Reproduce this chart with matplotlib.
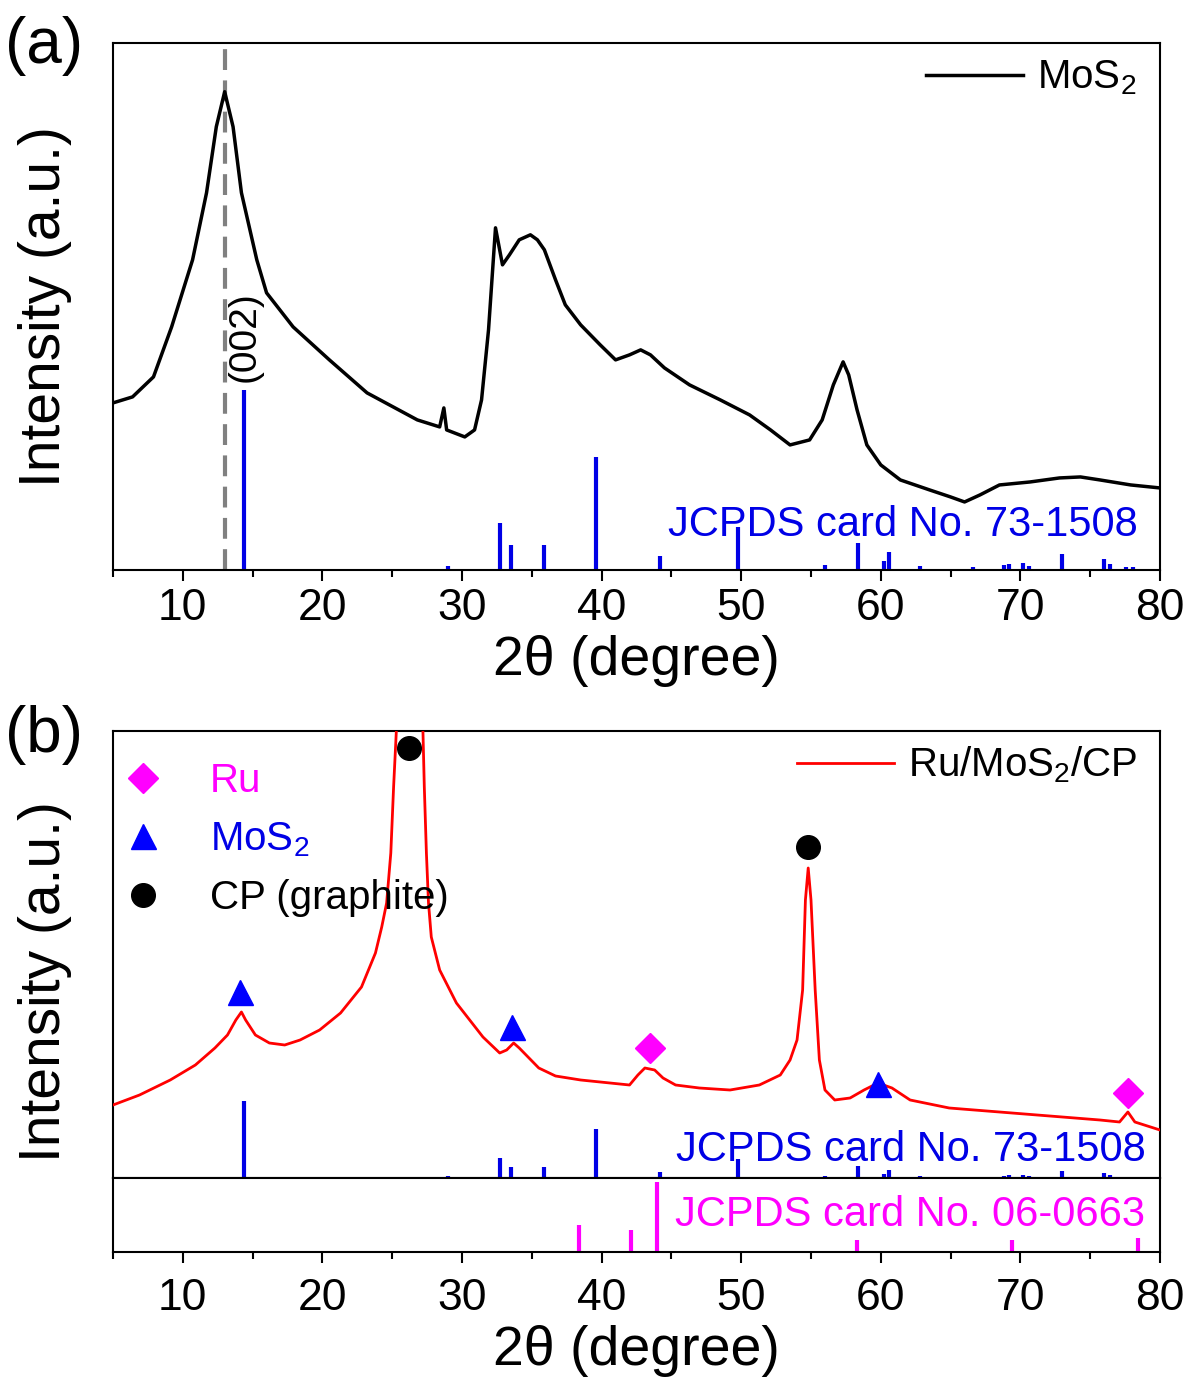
import matplotlib
matplotlib.use("Agg")
import matplotlib.pyplot as plt
from matplotlib.lines import Line2D

plt.rcParams['font.family'] = ['Liberation Sans', 'DejaVu Sans']
plt.rcParams['mathtext.fontset'] = 'custom'
plt.rcParams['mathtext.rm'] = 'Liberation Sans'
plt.rcParams['mathtext.it'] = 'Liberation Sans:italic'

# ---- data ----
# (a) MoS2 pattern
mos2_x = [5, 6.4, 7.9, 9.2, 10.7, 11.7, 12.4, 13.0, 13.6, 14.2, 15.3, 16.0, 17.9,
          20.5, 23.2, 26.8, 28.4, 28.7, 28.9, 30.2, 30.9, 31.4, 31.9, 32.4, 32.9,
          33.4, 34.1, 34.9, 35.4, 35.9, 36.7, 37.4, 38.5, 39.9, 41.0, 42.0, 42.8,
          43.5, 44.5, 46.3, 48.5, 50.6, 52.1, 53.5, 54.9, 55.8, 56.6, 57.3, 57.7,
          58.3, 59.0, 60.0, 61.4, 63.5, 65.0, 66.0, 67.1, 68.5, 70.7, 72.8, 74.3,
          75.7, 77.9, 80]
mos2_y = [167, 173, 193, 243, 310, 377, 443, 478, 443, 377, 310, 277, 243,
          210, 177, 150, 143, 162, 140, 133, 140, 170, 240, 342, 305,
          315, 330, 335, 330, 320, 290, 265, 245, 225, 210, 215, 220,
          215, 202, 185, 170, 155, 140, 125, 130, 150, 185, 208, 195,
          160, 125, 105, 90, 80, 73, 68, 75, 85, 88, 92, 93,
          90, 85, 82]

# (b) Ru/MoS2/CP pattern
ru_x = [5, 6.9, 9.1, 10.9, 12.3, 13.2, 13.8, 14.2, 14.5, 15.2, 16.2, 17.3, 18.4,
        19.8, 21.3, 22.8, 23.8, 24.25, 24.6, 24.9, 25.1, 25.3, 26.3, 27.2, 27.3,
        27.45, 27.6, 27.8, 28.4, 29.6, 31.5, 32.7, 33.2, 33.7, 34.1, 34.8, 35.5,
        36.7, 38.5, 40.6, 42.0, 42.6, 43.1, 43.8, 44.4, 45.3, 47.0, 49.2, 51.3,
        52.8, 53.5, 54.0, 54.4, 54.6, 54.8, 55.0, 55.3, 55.6, 56.0, 56.7, 57.8,
        58.8, 59.8, 60.8, 62.1, 64.9, 68.5, 72.1, 75.7, 77.1, 77.7, 78.2, 80]
ru_y = [73, 83, 98, 113, 130, 143, 158, 166, 158, 143, 135, 133, 138,
        148, 165, 191, 225, 251, 275, 325, 391, 448, 900, 448, 391,
        325, 275, 241, 208, 175, 141, 125, 128, 135, 130, 120, 110,
        102, 98, 95, 93, 103, 110, 108, 100, 93, 90, 88, 93,
        103, 118, 138, 188, 278, 310, 278, 188, 118, 88, 78, 80,
        88, 95, 90, 78, 70, 66, 62, 58, 56, 66, 56, 48]

# JCPDS 73-1508 (MoS2) reference lines, relative intensity
card_mos2_pos = [14.4, 29.0, 32.7, 33.5, 35.9, 39.6, 44.2, 49.8, 56.0, 58.4, 60.2,
                 60.6, 62.8, 66.6, 68.8, 69.2, 70.2, 70.6, 73.0, 76.0, 76.4, 77.6, 78.1]
card_mos2_int = [100, 2, 26, 14, 14, 63, 8, 24, 3, 15, 5,
                 10, 2, 1.5, 3, 3.5, 4, 2, 9, 6, 3.5, 1.5, 1.5]

# JCPDS 06-0663 (Ru)
card_ru_pos = [38.4, 42.1, 44.0, 58.3, 69.4, 78.4]
card_ru_int = [38, 32, 100, 17, 17, 20]

# peak markers in (b)
mark_cp_x, mark_cp_y = [26.2, 54.8], [430, 331]
mark_mos2_x, mark_mos2_y = [14.1, 33.6, 59.8], [186, 151, 94]
mark_ru_x, mark_ru_y = [43.5, 77.7], [130, 85]

BLUE = '#0000e6'
MAG = '#ff00ff'
FS_TICK = 32
FS_LAB = 40

fig = plt.figure(figsize=(11.9, 13.85), dpi=100)
ax_a = fig.add_axes([0.09496, 0.58845, 0.87983, 0.38072])
ax_b = fig.add_axes([0.09496, 0.14946, 0.87983, 0.32274])
ax_c = fig.add_axes([0.09496, 0.09603, 0.87983, 0.05343])

for ax in (ax_a, ax_b, ax_c):
    ax.set_xlim(5, 80)
    ax.set_yticks([])
    for s in ax.spines.values():
        s.set_linewidth(1.5)
    ax.set_xticks(range(10, 81, 10))
    ax.set_xticks(range(5, 81, 10), minor=True)
    ax.tick_params(axis='x', which='major', direction='out', length=8, width=1.5,
                   labelsize=FS_TICK, pad=5)
    ax.tick_params(axis='x', which='minor', direction='out', length=5, width=1.5)
ax_c.tick_params(axis='x', which='major', pad=11)

# ---- panel (a) ----
ax_a.set_ylim(0, 527)
ax_a.axvline(13.0, color='#808080', lw=3, dashes=(5, 2.5), zorder=1)
ax_a.plot(mos2_x, mos2_y, color='black', lw=2.5, label='MoS$_2$', zorder=3)
ax_a.vlines(card_mos2_pos, 0, [v * 1.8 for v in card_mos2_int], color=BLUE, lw=3, zorder=2)
ax_a.text(14.45, 188, '(002)', rotation=90, ha='center', va='bottom', fontsize=28)
ax_a.text(0.979, 0.085, 'JCPDS card No. 73-1508', transform=ax_a.transAxes,
          ha='right', va='center', color=BLUE, fontsize=30)
ax_a.legend(loc='upper right', frameon=False, fontsize=29, handlelength=2.4,
            handletextpad=0.35, borderaxespad=0, bbox_to_anchor=(0.993, 1.0))
ax_a.set_xlabel('2θ (degree)', fontsize=FS_LAB, labelpad=4)

# ---- panel (b) ----
ax_b.set_ylim(0, 447)
ax_b.plot(ru_x, ru_y, color='red', lw=2, label='Ru/MoS$_2$/CP', zorder=3)
ax_b.vlines(card_mos2_pos, 0, [v * 0.773 for v in card_mos2_int], color=BLUE, lw=3, zorder=2)
ax_b.plot(mark_cp_x, mark_cp_y, 'o', color='black', ms=17, ls='none', zorder=4)
ax_b.plot(mark_mos2_x, mark_mos2_y, '^', color='blue', ms=18, ls='none', zorder=4)
ax_b.plot(mark_ru_x, mark_ru_y, 'D', color=MAG, ms=15, ls='none', zorder=4)
ax_b.text(0.986, 0.063, 'JCPDS card No. 73-1508', transform=ax_b.transAxes,
          ha='right', va='center', color=BLUE, fontsize=30)
ax_b.tick_params(axis='x', which='both', bottom=False, labelbottom=False)
leg1 = ax_b.legend(loc='upper right', frameon=False, fontsize=29, handlelength=2.4,
                   handletextpad=0.35, borderaxespad=0, bbox_to_anchor=(0.994, 1.005))
ax_b.add_artist(leg1)
handles = [Line2D([], [], marker='D', color=MAG, ls='none', ms=15),
           Line2D([], [], marker='^', color='blue', ls='none', ms=18),
           Line2D([], [], marker='o', color='black', ls='none', ms=17)]
ax_b.legend(handles, ['Ru', 'MoS$_2$', 'CP (graphite)'], loc='upper left',
            bbox_to_anchor=(0.006, 0.93), frameon=False, fontsize=29,
            handlelength=1.2, handletextpad=1.05, labelspacing=0.5,
            borderaxespad=0, borderpad=0, labelcolor=[MAG, BLUE, 'black'])

# ---- panel (b) lower strip ----
ax_c.set_ylim(0, 74)
ax_c.vlines(card_ru_pos, 0, [v * 0.70 for v in card_ru_int], color=MAG, lw=3)
ax_c.text(0.986, 0.5, 'JCPDS card No. 06-0663', transform=ax_c.transAxes,
          ha='right', va='center', color=MAG, fontsize=30)
ax_c.set_xlabel('2θ (degree)', fontsize=FS_LAB, labelpad=4)

fig.text(0.038, 0.7783, 'Intensity (a.u.)', rotation=90, ha='center', va='center', fontsize=41)
fig.text(0.038, 0.2910, 'Intensity (a.u.)', rotation=90, ha='center', va='center', fontsize=41)
fig.text(0.004, 0.967, '(a)', ha='left', va='center', fontsize=46)
fig.text(0.004, 0.469, '(b)', ha='left', va='center', fontsize=46)

fig.savefig('out.png', dpi=100)
